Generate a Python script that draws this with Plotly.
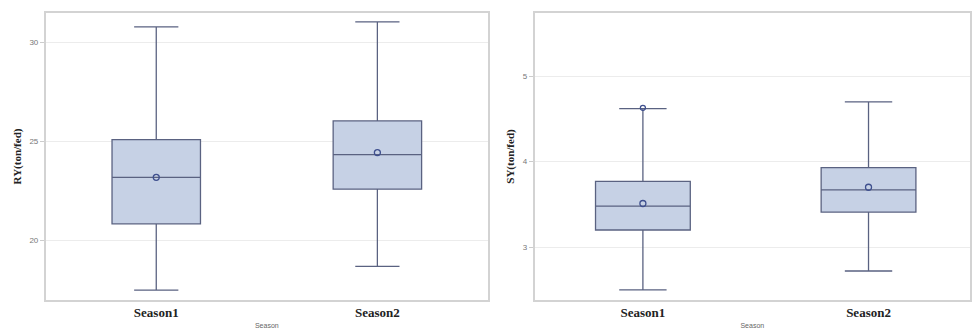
import plotly.graph_objects as go
from plotly.subplots import make_subplots

# Season categories
seasons = ["Season1", "Season2"]

# RY (ton/fed) five-number summaries and means
ry_lower = [17.5, 18.7]
ry_q1 = [20.85, 22.6]
ry_median = [23.2, 24.35]
ry_q3 = [25.1, 26.05]
ry_upper = [30.8, 31.05]
ry_mean = [23.2, 24.45]

# SY (ton/fed) five-number summaries and means
sy_lower = [2.5, 2.72]
sy_q1 = [3.2, 3.41]
sy_median = [3.48, 3.67]
sy_q3 = [3.77, 3.93]
sy_upper = [4.62, 4.70]
sy_mean = [3.51, 3.70]
sy_outlier_x = ["Season1"]
sy_outlier_y = [4.63]

box_fill = "#c6d1e5"
box_line = "#5a6281"
mean_color = "#3e4f8e"
serif = "Liberation Serif, Times New Roman, serif"

fig = make_subplots(rows=1, cols=2, horizontal_spacing=0.05)


def add_box(col, q1, med, q3, lo, hi, mean, width):
    fig.add_trace(
        go.Box(
            x=seasons,
            q1=q1,
            median=med,
            q3=q3,
            lowerfence=lo,
            upperfence=hi,
            fillcolor=box_fill,
            line=dict(color=box_line, width=1.3),
            whiskerwidth=0.5,
            width=width,
            boxpoints=False,
            showlegend=False,
            hoverinfo="skip",
        ),
        row=1,
        col=col,
    )
    fig.add_trace(
        go.Scatter(
            x=seasons,
            y=mean,
            mode="markers",
            marker=dict(symbol="circle-open", size=6, color=mean_color, line=dict(width=1.3)),
            showlegend=False,
            hoverinfo="skip",
        ),
        row=1,
        col=col,
    )


add_box(1, ry_q1, ry_median, ry_q3, ry_lower, ry_upper, ry_mean, 0.4)
add_box(2, sy_q1, sy_median, sy_q3, sy_lower, sy_upper, sy_mean, 0.42)

fig.add_trace(
    go.Scatter(
        x=sy_outlier_x,
        y=sy_outlier_y,
        mode="markers",
        marker=dict(symbol="circle-open", size=5, color=mean_color, line=dict(width=1.3)),
        showlegend=False,
        hoverinfo="skip",
    ),
    row=1,
    col=2,
)

frame = "#d3d3d3"
xcommon = dict(
    showline=True,
    mirror=True,
    linecolor=frame,
    linewidth=1.5,
    showgrid=False,
    ticks="",
    tickfont=dict(family=serif, size=13, color="#222222", weight="bold"),
    title=dict(text="Season", font=dict(family="Arial", size=7, color="#666666"), standoff=4),
)
ycommon = dict(
    showline=True,
    mirror=True,
    linecolor=frame,
    linewidth=1.5,
    showgrid=True,
    gridcolor="#ececec",
    gridwidth=1,
    zeroline=False,
    ticks="outside",
    ticklen=4,
    tickcolor="#cccccc",
    tickfont=dict(family="Arial", size=8, color="#777777"),
)

fig.update_xaxes(domain=[0.047, 0.502], range=[-0.5, 1.5], **xcommon, row=1, col=1)
fig.update_xaxes(domain=[0.550, 0.998], range=[-0.48, 1.45], **xcommon, row=1, col=2)
fig.update_yaxes(
    domain=[0.099, 0.961],
    range=[17.0, 31.5],
    tickvals=[20, 25, 30],
    title=dict(text="RY(ton/fed)", font=dict(family=serif, size=11, color="#222222", weight="bold"), standoff=6),
    **ycommon,
    row=1,
    col=1,
)
fig.update_yaxes(
    domain=[0.099, 0.961],
    range=[2.38, 5.74],
    tickvals=[3, 4, 5],
    title=dict(text="SY(ton/fed)", font=dict(family=serif, size=11, color="#222222", weight="bold"), standoff=6),
    **ycommon,
    row=1,
    col=2,
)

fig.update_layout(
    width=972,
    height=333,
    margin=dict(l=0, r=0, t=0, b=0),
    paper_bgcolor="white",
    plot_bgcolor="white",
)

fig.write_html("out.html")
